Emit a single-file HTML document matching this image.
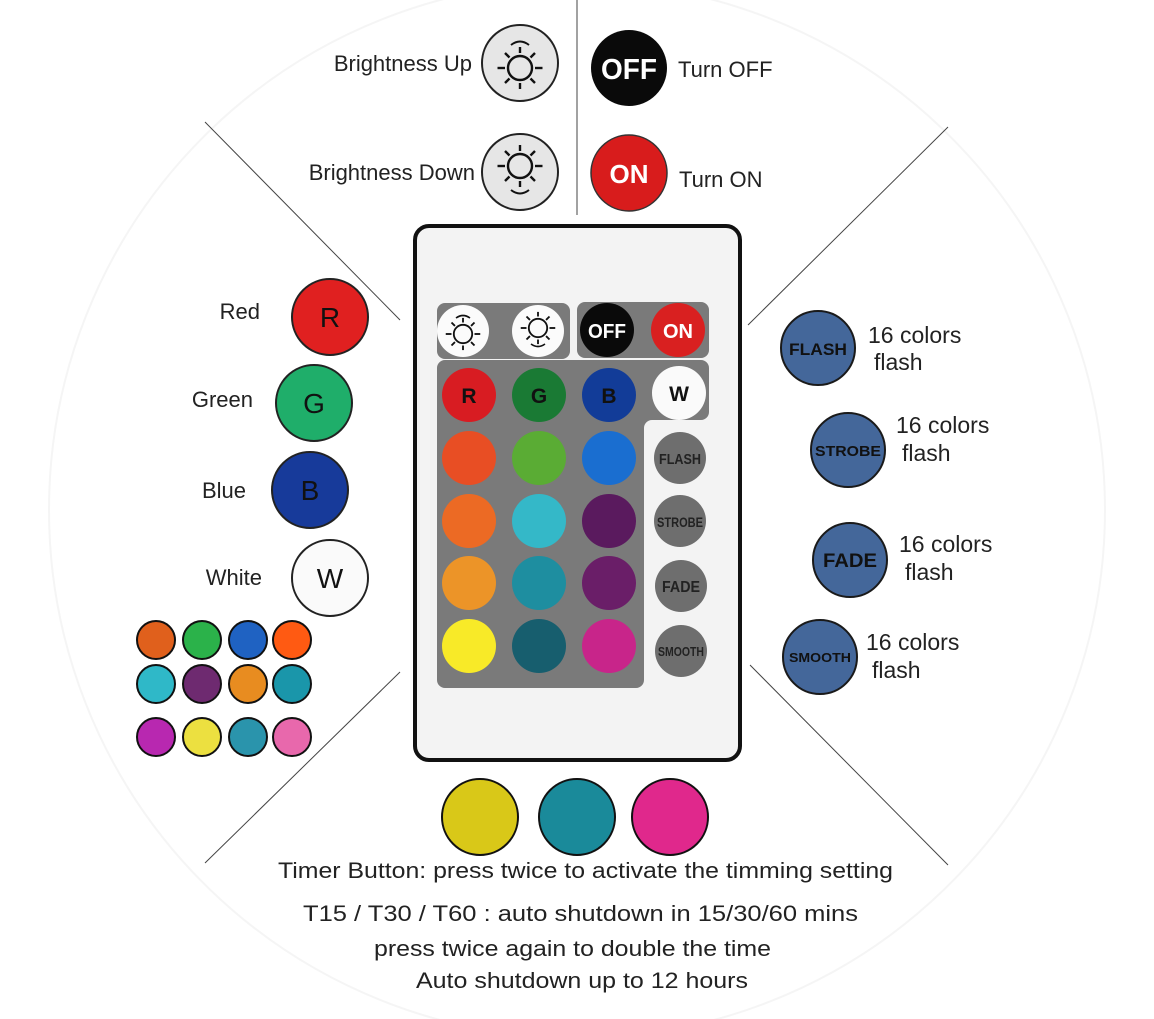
<!DOCTYPE html>
<html><head><meta charset="utf-8"><style>
html,body{margin:0;padding:0;background:#fff;}
svg{display:block;font-family:"Liberation Sans",Arial,sans-serif;}
</style></head><body>
<svg width="1154" height="1019" viewBox="0 0 1154 1019" xmlns="http://www.w3.org/2000/svg">
<defs>
<g id="sun" fill="none" stroke="#111" stroke-width="1.6">
<circle r="8"/>
<line x1="0" y1="-10" x2="0" y2="-14"/><line x1="0" y1="10" x2="0" y2="14"/>
<line x1="-10" y1="0" x2="-15" y2="0"/><line x1="10" y1="0" x2="15" y2="0"/>
<line x1="7" y1="7" x2="10" y2="10"/><line x1="-7" y1="7" x2="-10" y2="10"/>
<line x1="7" y1="-7" x2="10" y2="-10"/><line x1="-7" y1="-7" x2="-10" y2="-10"/>
</g>
</defs>
<rect width="1154" height="1019" fill="#fff"/>
<circle cx="577" cy="510" r="528" fill="none" stroke="#f5f5f5" stroke-width="2"/>
<g stroke="#444" stroke-width="1">
<line x1="577" y1="0" x2="577" y2="215"/>
<line x1="205" y1="122" x2="400" y2="320"/>
<line x1="948" y1="127" x2="748" y2="325"/>
<line x1="400" y1="672" x2="205" y2="863"/>
<line x1="750" y1="665" x2="948" y2="865"/>
</g>

<!-- top icons -->
<circle cx="520" cy="63" r="38" fill="#e6e6e6" stroke="#222" stroke-width="2"/>
<g transform="translate(520,68) scale(1.5)"><use href="#sun"/></g>
<path d="M511 45 q9 -7 18 0" fill="none" stroke="#111" stroke-width="2"/>
<circle cx="520" cy="172" r="38" fill="#e6e6e6" stroke="#222" stroke-width="2"/>
<g transform="translate(520,166) scale(1.5)"><use href="#sun"/></g>
<path d="M511 190 q9 7 18 0" fill="none" stroke="#111" stroke-width="2"/>
<circle cx="629" cy="68" r="38" fill="#0a0a0a"/>
<text x="629" y="79" font-size="29" font-weight="bold" fill="#fff" text-anchor="middle" textLength="56" lengthAdjust="spacingAndGlyphs">OFF</text>
<circle cx="629" cy="173" r="38" fill="#d81c1c" stroke="#333" stroke-width="1.5"/>
<text x="629" y="183" font-size="26" font-weight="bold" fill="#fff" text-anchor="middle">ON</text>
<g font-size="22" fill="#222">
<text x="472" y="71" text-anchor="end">Brightness Up</text>
<text x="475" y="180" text-anchor="end">Brightness Down</text>
<text x="678" y="77">Turn OFF</text>
<text x="679" y="187">Turn ON</text>
</g>

<!-- left RGBW -->
<g stroke="#222" stroke-width="2">
<circle cx="330" cy="317" r="38" fill="#e02020"/>
<circle cx="314" cy="403" r="38" fill="#1fae6a"/>
<circle cx="310" cy="490" r="38" fill="#173a9a"/>
<circle cx="330" cy="578" r="38" fill="#fafafa"/>
</g>
<g font-size="28" fill="#111" text-anchor="middle">
<text x="330" y="327">R</text><text x="314" y="413">G</text><text x="310" y="500">B</text><text x="330" y="588">W</text>
</g>
<g font-size="22" fill="#222" text-anchor="end">
<text x="260" y="319">Red</text><text x="253" y="407">Green</text><text x="246" y="498">Blue</text><text x="262" y="585">White</text>
</g>

<!-- small palette -->
<g stroke="#111" stroke-width="2">
<circle cx="156" cy="640" r="19" fill="#e0601c"/><circle cx="202" cy="640" r="19" fill="#2bb24a"/><circle cx="248" cy="640" r="19" fill="#1f62c2"/><circle cx="292" cy="640" r="19" fill="#ff5a12"/>
<circle cx="156" cy="684" r="19" fill="#2fb8c8"/><circle cx="202" cy="684" r="19" fill="#6e2a70"/><circle cx="248" cy="684" r="19" fill="#e88c20"/><circle cx="292" cy="684" r="19" fill="#1a96aa"/>
<circle cx="156" cy="737" r="19" fill="#b828b0"/><circle cx="202" cy="737" r="19" fill="#ece040"/><circle cx="248" cy="737" r="19" fill="#2a94ac"/><circle cx="292" cy="737" r="19" fill="#e868ac"/>
</g>

<!-- right mode buttons -->
<g fill="#44679a" stroke="#1a1a1a" stroke-width="2">
<circle cx="818" cy="348" r="37"/><circle cx="848" cy="450" r="37"/><circle cx="850" cy="560" r="37"/><circle cx="820" cy="657" r="37"/>
</g>
<g fill="#111" text-anchor="middle" font-weight="bold">
<text x="818" y="355" font-size="17" textLength="58" lengthAdjust="spacingAndGlyphs">FLASH</text>
<text x="848" y="456" font-size="15" textLength="66" lengthAdjust="spacingAndGlyphs">STROBE</text>
<text x="850" y="567" font-size="19" textLength="54" lengthAdjust="spacingAndGlyphs">FADE</text>
<text x="820" y="662" font-size="13" textLength="62" lengthAdjust="spacingAndGlyphs">SMOOTH</text>
</g>
<g font-size="23" fill="#222">
<text x="868" y="343">16 colors</text><text x="874" y="370">flash</text>
<text x="896" y="433">16 colors</text><text x="902" y="461">flash</text>
<text x="899" y="552">16 colors</text><text x="905" y="580">flash</text>
<text x="866" y="650">16 colors</text><text x="872" y="678">flash</text>
</g>

<!-- remote -->
<rect x="415" y="226" width="325" height="534" rx="14" fill="#f3f3f3" stroke="#111" stroke-width="4"/>
<rect x="437" y="303" width="133" height="56" rx="8" fill="#7a7a7a"/>
<rect x="577" y="302" width="132" height="56" rx="8" fill="#7a7a7a"/>
<path d="M445 360 H701 a8 8 0 0 1 8 8 V412 a8 8 0 0 1 -8 8 H652 a8 8 0 0 0 -8 8 V680 a8 8 0 0 1 -8 8 H445 a8 8 0 0 1 -8 -8 V368 a8 8 0 0 1 8 -8Z" fill="#7a7a7a"/>
<circle cx="463" cy="331" r="26" fill="#fbfbfb"/><g transform="translate(463,334) scale(1.15)"><use href="#sun"/></g>
<path d="M456 318 q7 -5 14 0" fill="none" stroke="#111" stroke-width="1.6"/>
<circle cx="538" cy="331" r="26" fill="#fbfbfb"/><g transform="translate(538,328) scale(1.15)"><use href="#sun"/></g>
<path d="M531 344 q7 5 14 0" fill="none" stroke="#111" stroke-width="1.6"/>
<circle cx="607" cy="330" r="27" fill="#0a0a0a"/>
<text x="607" y="338" font-size="20" font-weight="bold" fill="#fff" text-anchor="middle" textLength="38" lengthAdjust="spacingAndGlyphs">OFF</text>
<circle cx="678" cy="330" r="27" fill="#d92020"/>
<text x="678" y="338" font-size="20" font-weight="bold" fill="#fff" text-anchor="middle" textLength="30" lengthAdjust="spacingAndGlyphs">ON</text>
<g>
<circle cx="469" cy="395" r="27" fill="#d81c22"/><circle cx="539" cy="395" r="27" fill="#1a7a34"/><circle cx="609" cy="395" r="27" fill="#123c98"/><circle cx="679" cy="393" r="27" fill="#fafafa"/>
<circle cx="469" cy="458" r="27" fill="#e84e24"/><circle cx="539" cy="458" r="27" fill="#5aac34"/><circle cx="609" cy="458" r="27" fill="#1a6ed0"/>
<circle cx="469" cy="521" r="27" fill="#ec6a24"/><circle cx="539" cy="521" r="27" fill="#34b8c8"/><circle cx="609" cy="521" r="27" fill="#5a1a5e"/>
<circle cx="469" cy="583" r="27" fill="#ec9428"/><circle cx="539" cy="583" r="27" fill="#1e8ea0"/><circle cx="609" cy="583" r="27" fill="#6a1e68"/>
<circle cx="469" cy="646" r="27" fill="#f8ea28"/><circle cx="539" cy="646" r="27" fill="#175e6e"/><circle cx="609" cy="646" r="27" fill="#c8258a"/>
</g>
<g font-size="21" fill="#111" text-anchor="middle" font-weight="bold">
<text x="469" y="403">R</text><text x="539" y="403">G</text><text x="609" y="403">B</text><text x="679" y="401">W</text>
</g>
<g fill="#6e6e6e">
<circle cx="680" cy="458" r="26"/><circle cx="680" cy="521" r="26"/><circle cx="681" cy="586" r="26"/><circle cx="681" cy="651" r="26"/>
</g>
<g fill="#222" text-anchor="middle" font-weight="bold">
<text x="680" y="464" font-size="15" textLength="42" lengthAdjust="spacingAndGlyphs">FLASH</text>
<text x="680" y="527" font-size="14" textLength="46" lengthAdjust="spacingAndGlyphs">STROBE</text>
<text x="681" y="592" font-size="16" textLength="38" lengthAdjust="spacingAndGlyphs">FADE</text>
<text x="681" y="656" font-size="13" textLength="46" lengthAdjust="spacingAndGlyphs">SMOOTH</text>
</g>

<!-- bottom -->
<g stroke="#111" stroke-width="2">
<circle cx="480" cy="817" r="38" fill="#d9c818"/>
<circle cx="577" cy="817" r="38" fill="#1a8a9a"/>
<circle cx="670" cy="817" r="38" fill="#e0288c"/>
</g>
<g font-size="22" fill="#222">
<text x="278" y="878" textLength="615" lengthAdjust="spacingAndGlyphs">Timer Button: press twice to activate the timming setting</text>
<text x="303" y="921" textLength="555" lengthAdjust="spacingAndGlyphs">T15 / T30 / T60 :  auto shutdown in 15/30/60 mins</text>
<text x="374" y="956" textLength="397" lengthAdjust="spacingAndGlyphs">press twice again to double the time</text>
<text x="416" y="988" textLength="332" lengthAdjust="spacingAndGlyphs">Auto shutdown up to 12 hours</text>
</g>
</svg>
</body></html>
